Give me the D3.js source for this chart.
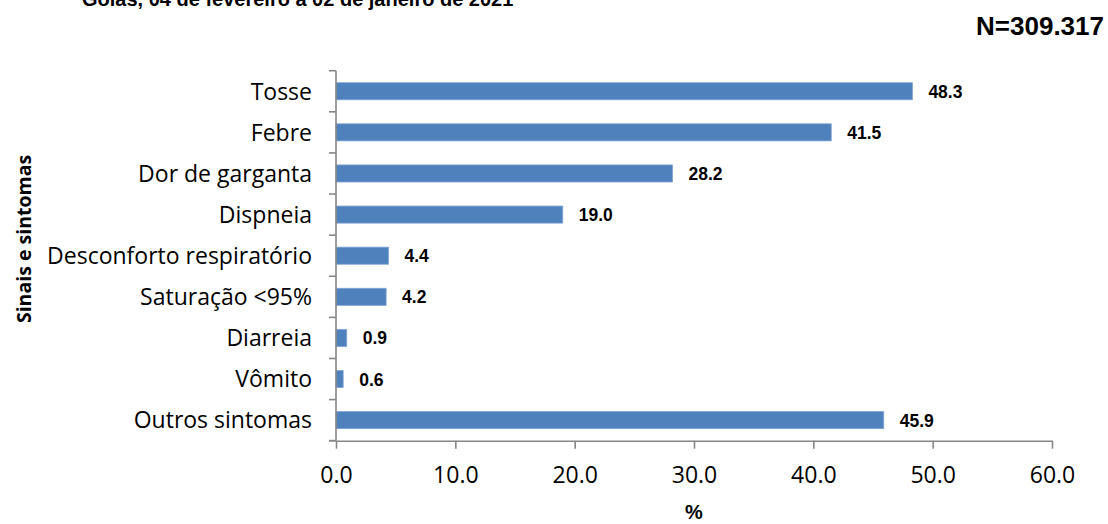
<!DOCTYPE html>
<html>
<head>
<meta charset="utf-8">
<script src="https://cdn.jsdelivr.net/npm/d3@7"></script>
<style>
  html, body { margin: 0; padding: 0; background: #fff; }
  svg { display: block; }
</style>
</head>
<body>
<svg id="chart" width="1108" height="524"></svg>
<script>
// Sinais e sintomas (%), Goiás
const categories = [
  "Tosse", "Febre", "Dor de garganta", "Dispneia",
  "Desconforto respiratório", "Saturação <95%", "Diarreia",
  "Vômito", "Outros sintomas"
];
const values = [48.3, 41.5, 28.2, 19.0, 4.4, 4.2, 0.9, 0.6, 45.9];
const xTicks = [0, 10, 20, 30, 40, 50, 60];
const titleText = "Goiás, 04 de fevereiro a 02 de janeiro de 2021";
const totalText = "N=309.317";
const yTitle = "Sinais e sintomas";
const xTitle = "%";

const svg = d3.select("#chart");
const plot = { left: 336, right: 1052, top: 70.7, bottom: 440.7 };
const axisColor = "#868686";
const sans = "'Open Sans', 'Noto Sans', sans-serif";
const arialBold = "'Liberation Sans', Arial, sans-serif";

const x = d3.scaleLinear().domain([0, 60]).range([plot.left, plot.right]);
const y = d3.scaleBand().domain(categories).range([plot.top, plot.bottom]).paddingInner(0.585).paddingOuter(0.2925);
const yBand = d3.scaleBand().domain(categories).range([plot.top, plot.bottom]);

// Title (runs past the top edge)
svg.append("text")
  .attr("x", 82).attr("y", 5.5)
  .attr("font-family", arialBold).attr("font-weight", "bold").attr("font-size", 20)
  .attr("fill", "#000")
  .text(titleText);

svg.append("text")
  .attr("x", 1104).attr("y", 35)
  .attr("text-anchor", "end")
  .attr("font-family", arialBold).attr("font-weight", "bold").attr("font-size", 26)
  .attr("fill", "#000")
  .text(totalText);

// Bars
svg.append("g").selectAll("rect")
  .data(categories)
  .join("rect")
  .attr("x", x(0))
  .attr("y", d => y(d))
  .attr("width", (d, i) => x(values[i]) - x(0))
  .attr("height", y.bandwidth())
  .attr("fill", "#4F81BD")
  .attr("stroke", "#7FA3D3")
  .attr("stroke-width", 0.8);

// Value labels
svg.append("g").selectAll("text")
  .data(categories)
  .join("text")
  .attr("x", (d, i) => x(values[i]) + 16)
  .attr("y", d => yBand(d) + yBand.bandwidth() / 2 + 6.5)
  .attr("font-family", arialBold).attr("font-weight", "bold").attr("font-size", 17.5)
  .attr("fill", "#000")
  .text((d, i) => values[i].toFixed(1));

// Y axis: line with ticks at band boundaries
const yAxisG = svg.append("g");
yAxisG.append("line")
  .attr("x1", plot.left).attr("x2", plot.left)
  .attr("y1", plot.top).attr("y2", plot.bottom)
  .attr("stroke", axisColor).attr("stroke-width", 1.6);
const boundaries = categories.map(d => yBand(d)).concat([plot.bottom]);
yAxisG.selectAll("line.tick")
  .data(boundaries)
  .join("line")
  .attr("class", "tick")
  .attr("x1", plot.left - 7).attr("x2", plot.left)
  .attr("y1", d => d).attr("y2", d => d)
  .attr("stroke", axisColor).attr("stroke-width", 1.6);
yAxisG.selectAll("text")
  .data(categories)
  .join("text")
  .attr("x", 312)
  .attr("y", d => yBand(d) + yBand.bandwidth() / 2)
  .attr("dy", "0.36em")
  .attr("text-anchor", "end")
  .attr("font-family", sans).attr("font-size", 23)
  .attr("fill", "#000")
  .text(d => d);

// X axis
const xAxis = d3.axisBottom(x)
  .tickValues(xTicks)
  .tickFormat(d3.format(".1f"))
  .tickSize(8)
  .tickSizeOuter(0);
const xAxisG = svg.append("g")
  .attr("transform", `translate(0,${plot.bottom})`)
  .call(xAxis);
xAxisG.select(".domain").attr("stroke", axisColor).attr("stroke-width", 1.6);
xAxisG.selectAll(".tick line").attr("stroke", axisColor).attr("stroke-width", 1.6);
xAxisG.selectAll(".tick text")
  .attr("y", 42).attr("dy", 0)
  .attr("font-family", sans).attr("font-size", 23)
  .attr("fill", "#000");
// extend baseline left to meet the bottom tick of the category axis
svg.append("line")
  .attr("x1", plot.left - 7).attr("x2", plot.left)
  .attr("y1", plot.bottom).attr("y2", plot.bottom)
  .attr("stroke", axisColor).attr("stroke-width", 1.6);

// Axis titles
svg.append("text")
  .attr("x", (plot.left + plot.right) / 2).attr("y", 519)
  .attr("text-anchor", "middle")
  .attr("font-family", arialBold).attr("font-weight", "bold").attr("font-size", 20)
  .attr("fill", "#000")
  .text(xTitle);

svg.append("text")
  .attr("transform", `translate(31,239) rotate(-90)`)
  .attr("text-anchor", "middle")
  .attr("font-family", sans).attr("font-weight", "bold").attr("font-size", 19.5)
  .attr("fill", "#000")
  .text(yTitle);
</script>
</body>
</html>
